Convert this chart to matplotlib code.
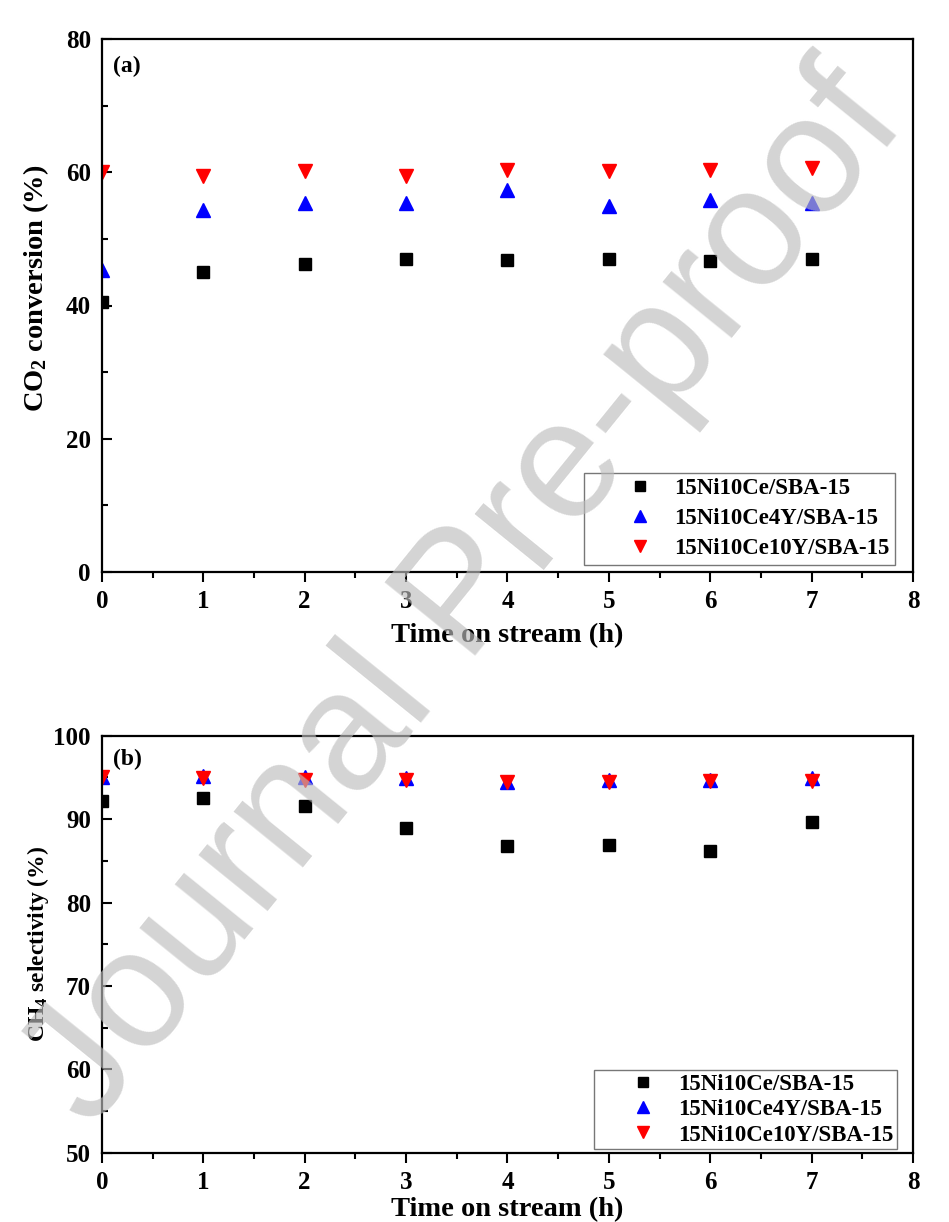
import matplotlib
matplotlib.use("Agg")
import matplotlib.pyplot as plt
from matplotlib.ticker import MultipleLocator

plt.rcParams["font.family"] = ["Liberation Serif", "DejaVu Serif"]
plt.rcParams["font.weight"] = "bold"
plt.rcParams["mathtext.fontset"] = "custom"
plt.rcParams["mathtext.rm"] = "Liberation Serif:bold"
plt.rcParams["mathtext.default"] = "rm"

# time on stream (h)
time_h = [0, 1, 2, 3, 4, 5, 6, 7]
labels = ["15Ni10Ce/SBA-15", "15Ni10Ce4Y/SBA-15", "15Ni10Ce10Y/SBA-15"]

# (a) CO2 conversion (%)
co2_ce = [40.6, 45.0, 46.2, 47.0, 46.8, 47.0, 46.7, 47.0]
co2_ce4y = [45.3, 54.4, 55.4, 55.4, 57.3, 55.0, 55.8, 55.4]
co2_ce10y = [60.1, 59.4, 60.2, 59.4, 60.4, 60.2, 60.4, 60.6]

# (b) CH4 selectivity (%)
ch4_ce = [92.2, 92.5, 91.6, 88.9, 86.8, 86.9, 86.2, 89.6]
ch4_ce4y = [95.1, 95.2, 95.0, 94.9, 94.4, 94.7, 94.7, 94.9]
ch4_ce10y = [95.0, 94.9, 94.7, 94.7, 94.4, 94.5, 94.6, 94.6]

fig = plt.figure(figsize=(9.49, 12.22), dpi=100)
ax1 = fig.add_axes([0.1075, 0.532, 0.8545, 0.436])
ax2 = fig.add_axes([0.1075, 0.0565, 0.8545, 0.3415])

styles = [("s", "black", 8), ("^", "blue", 10), ("v", "red", 10)]


def draw(ax, series, ylim, major, minor, ylabel, ylsize, ylpos, tag, xlpad, leg):
    for (m, c, ms), vals, lab in zip(styles, series, labels):
        ax.plot(time_h, vals, linestyle="none", marker=m, color=c,
                markersize=ms, label=lab)
    ax.set_xlim(0, 8)
    ax.set_ylim(*ylim)
    ax.xaxis.set_major_locator(MultipleLocator(1))
    ax.xaxis.set_minor_locator(MultipleLocator(0.5))
    ax.yaxis.set_major_locator(MultipleLocator(major))
    ax.yaxis.set_minor_locator(MultipleLocator(minor))
    ax.tick_params(axis="x", which="major", direction="out", length=7, width=1.5, labelsize=18, pad=6)
    ax.tick_params(axis="x", which="minor", direction="out", length=4.5, width=1.5)
    ax.tick_params(axis="y", which="major", direction="in", length=7, width=1.5, labelsize=18, pad=8)
    ax.tick_params(axis="y", which="minor", direction="in", length=4.5, width=1.5)
    for sp in ax.spines.values():
        sp.set_linewidth(1.6)
    ax.set_xlabel("Time on stream (h)", fontsize=20.5, fontweight="bold", labelpad=xlpad)
    ax.set_ylabel(ylabel, fontsize=ylsize, fontweight="bold")
    ax.yaxis.set_label_coords(-0.063, ylpos)
    ax.text(0.014, 0.968, tag, transform=ax.transAxes, fontsize=17,
            fontweight="bold", va="top", ha="left")
    lg = ax.legend(loc="lower right", frameon=True, fancybox=False,
                   edgecolor="#555555", fontsize=16.5, markerscale=0.9,
                   borderaxespad=0, **leg)
    lg.get_frame().set_linewidth(1.0)


draw(ax1, [co2_ce, co2_ce4y, co2_ce10y], (0, 80), 20, 10,
     r"CO$_2$ conversion (%)", 20.5, 0.532, "(a)", 7,
     dict(bbox_to_anchor=(0.978, 0.013), borderpad=0.25, labelspacing=0.39,
          handlelength=4.37, handletextpad=-0.71))
draw(ax2, [ch4_ce, ch4_ce4y, ch4_ce10y], (50, 100), 10, 5,
     r"CH$_4$ selectivity (%)", 17, 0.5, "(b)", 2,
     dict(bbox_to_anchor=(0.98, 0.0096), borderpad=0.15, labelspacing=0.19,
          handlelength=3.96, handletextpad=-0.46))

# watermark
fig.text(0.49, 0.51, "Journal Pre-proof", fontsize=121, family="Liberation Sans",
         fontweight="normal", color="#bdbdbd", alpha=0.65, rotation=51,
         ha="center", va="center", zorder=10)

fig.savefig("out.png", dpi=100)
